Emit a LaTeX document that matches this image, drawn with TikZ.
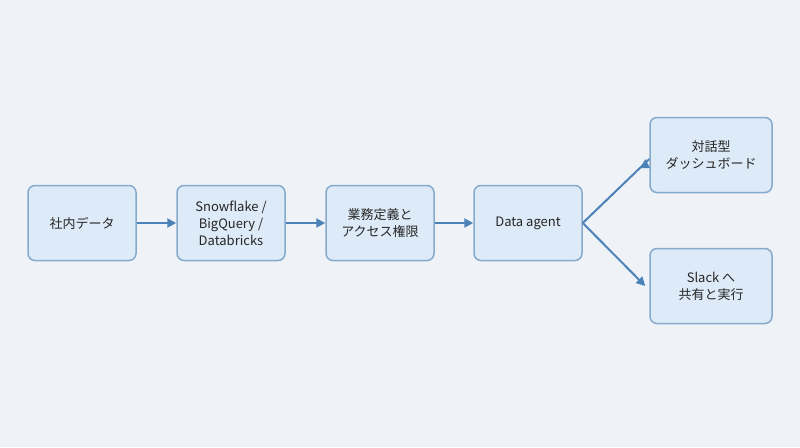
\documentclass[tikz,border=0pt]{standalone}
\usepackage{fontspec}
\setmainfont{Noto Sans CJK JP}
\usetikzlibrary{arrows.meta}
\definecolor{bg}{HTML}{EFF3F8}
\definecolor{boxfill}{HTML}{DDEAF7}
\definecolor{boxline}{HTML}{86AACB}
\definecolor{arr}{HTML}{4C82B8}
\begin{document}
\begin{tikzpicture}[x=1pt,y=-1pt,
  box/.style={draw=boxline,fill=boxfill,line width=1.5pt,rounded corners=7pt,
    minimum width=108pt,minimum height=75pt,align=center,font=\fontsize{13}{17}\selectfont,text=black!85},
  conn/.style={draw=arr,line width=2pt,-{Triangle[length=9pt,width=9pt]}}]
\fill[bg] (0,0) rectangle (800,447);
\node[box] (a) at (82,223) {社内データ};
\node[box] (b) at (231,223) {Snowflake /\\BigQuery /\\Databricks};
\node[box] (c) at (380,223) {業務定義と\\アクセス権限};
\node[box] (d) at (528,223) {Data agent};
\node[box,minimum width=122pt] (e) at (711,155) {対話型\\ダッシュボード};
\node[box,minimum width=122pt] (f) at (711,286) {Slack へ\\共有と実行};
\draw[conn] (a) -- (b);
\draw[conn] (b) -- (c);
\draw[conn] (c) -- (d);
\draw[conn] (d.east) -- (e.west |- 0,159) ++(-4,0);
\draw[conn] (d.east) -- ([xshift=-4pt]f.west);
\end{tikzpicture}
\end{document}
